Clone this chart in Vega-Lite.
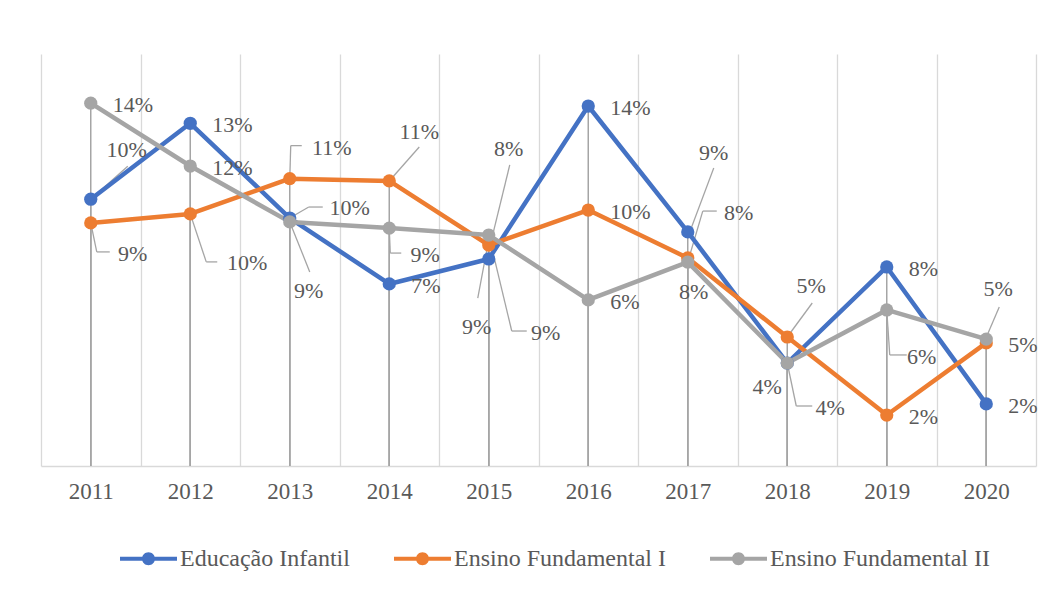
{
"$schema":"https://vega.github.io/schema/vega-lite/v6.json",
"width":995,"height":412,
"autosize":{"type":"none"},
"padding":{"left":41,"top":54,"right":20,"bottom":132},
"background":"white",
"config":{
 "view":{"stroke":null},
 "font":"Liberation Serif",
 "text":{"font":"Liberation Serif","fontSize":22,"color":"#595959","baseline":"middle","align":"center"},
 "rule":{"color":"#a5a5a5","strokeWidth":1.3}
},
"data":{"values":[
 {"year":"2011","s":"Educação Infantil","v":0.1036},
 {"year":"2012","s":"Educação Infantil","v":0.1331},
 {"year":"2013","s":"Educação Infantil","v":0.0963},
 {"year":"2014","s":"Educação Infantil","v":0.0707},
 {"year":"2015","s":"Educação Infantil","v":0.0804},
 {"year":"2016","s":"Educação Infantil","v":0.1398},
 {"year":"2017","s":"Educação Infantil","v":0.0909},
 {"year":"2018","s":"Educação Infantil","v":0.0400},
 {"year":"2019","s":"Educação Infantil","v":0.0773},
 {"year":"2020","s":"Educação Infantil","v":0.0241},
 {"year":"2011","s":"Ensino Fundamental I","v":0.0944},
 {"year":"2012","s":"Ensino Fundamental I","v":0.0979},
 {"year":"2013","s":"Ensino Fundamental I","v":0.1116},
 {"year":"2014","s":"Ensino Fundamental I","v":0.1107},
 {"year":"2015","s":"Ensino Fundamental I","v":0.0858},
 {"year":"2016","s":"Ensino Fundamental I","v":0.0994},
 {"year":"2017","s":"Ensino Fundamental I","v":0.0808},
 {"year":"2018","s":"Ensino Fundamental I","v":0.0501},
 {"year":"2019","s":"Ensino Fundamental I","v":0.0198},
 {"year":"2020","s":"Ensino Fundamental I","v":0.0478},
 {"year":"2011","s":"Ensino Fundamental II","v":0.1409},
 {"year":"2012","s":"Ensino Fundamental II","v":0.1165},
 {"year":"2013","s":"Ensino Fundamental II","v":0.0948},
 {"year":"2014","s":"Ensino Fundamental II","v":0.0924},
 {"year":"2015","s":"Ensino Fundamental II","v":0.0897},
 {"year":"2016","s":"Ensino Fundamental II","v":0.0645},
 {"year":"2017","s":"Ensino Fundamental II","v":0.0792},
 {"year":"2018","s":"Ensino Fundamental II","v":0.0400},
 {"year":"2019","s":"Ensino Fundamental II","v":0.0606},
 {"year":"2020","s":"Ensino Fundamental II","v":0.0493}
]},
"transform":[{"calculate":"(datum.s=='Educação Infantil'?'B':(datum.s=='Ensino Fundamental I'?'O':'G'))+datum.year","as":"k"}],
"encoding":{
 "x":{"field":"year","type":"ordinal","bandPosition":0.5,
  "scale":{"type":"band","paddingInner":0,"paddingOuter":0},
  "axis":{"title":null,"tickBand":"extent","ticks":false,"grid":true,"gridColor":"#d9d9d9","gridWidth":1.3,"domainColor":"#d9d9d9","domainWidth":1.3,"labelFont":"Liberation Serif","labelFontSize":23,"labelColor":"#595959","labelPadding":14,"labelAngle":0}},
 "y":{"field":"v","type":"quantitative","scale":{"domain":[0,0.16]},"axis":null}
},
"layer":[
 {"mark":{"type":"rule","strokeWidth":1.5},"encoding":{"y2":{"datum":0}}},
 {"encoding":{"x2":{"field":"year"},"y2":{"field":"v"}},
  "layer":[
   {"transform":[{"filter":"datum.k=='B2011'"}],"mark":{"type":"rule","xOffset":37,"yOffset":-33,"x2Offset":0,"y2Offset":0}},
   {"transform":[{"filter":"datum.k=='B2013'"}],"mark":{"type":"rule","xOffset":33,"yOffset":-11,"x2Offset":19,"y2Offset":-11}},
   {"transform":[{"filter":"datum.k=='B2013'"}],"mark":{"type":"rule","xOffset":19,"yOffset":-11,"x2Offset":0,"y2Offset":0}},
   {"transform":[{"filter":"datum.k=='B2015'"}],"mark":{"type":"rule","xOffset":21,"yOffset":-94,"x2Offset":1,"y2Offset":-12}},
   {"transform":[{"filter":"datum.k=='B2017'"}],"mark":{"type":"rule","xOffset":26,"yOffset":-64,"x2Offset":2,"y2Offset":0}},
   {"transform":[{"filter":"datum.k=='O2011'"}],"mark":{"type":"rule","xOffset":19,"yOffset":29,"x2Offset":6,"y2Offset":29}},
   {"transform":[{"filter":"datum.k=='O2011'"}],"mark":{"type":"rule","xOffset":6,"yOffset":29,"x2Offset":0,"y2Offset":0}},
   {"transform":[{"filter":"datum.k=='O2012'"}],"mark":{"type":"rule","xOffset":27,"yOffset":48,"x2Offset":16,"y2Offset":48}},
   {"transform":[{"filter":"datum.k=='O2012'"}],"mark":{"type":"rule","xOffset":16,"yOffset":48,"x2Offset":0,"y2Offset":0}},
   {"transform":[{"filter":"datum.k=='O2013'"}],"mark":{"type":"rule","xOffset":12,"yOffset":-33,"x2Offset":1,"y2Offset":-33}},
   {"transform":[{"filter":"datum.k=='O2013'"}],"mark":{"type":"rule","xOffset":1,"yOffset":-33,"x2Offset":0,"y2Offset":0}},
   {"transform":[{"filter":"datum.k=='O2014'"}],"mark":{"type":"rule","xOffset":30,"yOffset":-34,"x2Offset":0,"y2Offset":0}},
   {"transform":[{"filter":"datum.k=='O2015'"}],"mark":{"type":"rule","xOffset":-11,"yOffset":53,"x2Offset":-1,"y2Offset":0}},
   {"transform":[{"filter":"datum.k=='O2018'"}],"mark":{"type":"rule","xOffset":25,"yOffset":-34,"x2Offset":0,"y2Offset":0}},
   {"transform":[{"filter":"datum.k=='G2013'"}],"mark":{"type":"rule","xOffset":20,"yOffset":50,"x2Offset":0,"y2Offset":0}},
   {"transform":[{"filter":"datum.k=='G2014'"}],"mark":{"type":"rule","xOffset":12,"yOffset":25,"x2Offset":1,"y2Offset":25}},
   {"transform":[{"filter":"datum.k=='G2014'"}],"mark":{"type":"rule","xOffset":1,"yOffset":25,"x2Offset":0,"y2Offset":0}},
   {"transform":[{"filter":"datum.k=='G2015'"}],"mark":{"type":"rule","xOffset":38,"yOffset":96,"x2Offset":23,"y2Offset":96}},
   {"transform":[{"filter":"datum.k=='G2015'"}],"mark":{"type":"rule","xOffset":23,"yOffset":96,"x2Offset":0,"y2Offset":0}},
   {"transform":[{"filter":"datum.k=='G2017'"}],"mark":{"type":"rule","xOffset":29,"yOffset":-51,"x2Offset":15,"y2Offset":-51}},
   {"transform":[{"filter":"datum.k=='G2017'"}],"mark":{"type":"rule","xOffset":15,"yOffset":-51,"x2Offset":0,"y2Offset":0}},
   {"transform":[{"filter":"datum.k=='G2018'"}],"mark":{"type":"rule","xOffset":25,"yOffset":43,"x2Offset":9,"y2Offset":43}},
   {"transform":[{"filter":"datum.k=='G2018'"}],"mark":{"type":"rule","xOffset":9,"yOffset":43,"x2Offset":0,"y2Offset":0}},
   {"transform":[{"filter":"datum.k=='G2019'"}],"mark":{"type":"rule","xOffset":20,"yOffset":45,"x2Offset":3,"y2Offset":45}},
   {"transform":[{"filter":"datum.k=='G2019'"}],"mark":{"type":"rule","xOffset":3,"yOffset":45,"x2Offset":0,"y2Offset":0}},
   {"transform":[{"filter":"datum.k=='G2020'"}],"mark":{"type":"rule","xOffset":13,"yOffset":-32,"x2Offset":1,"y2Offset":-4}}
  ]},
 {"mark":{"type":"line","strokeWidth":4.5,"strokeJoin":"round","strokeCap":"round"},
  "encoding":{"color":{"field":"s","type":"nominal",
   "scale":{"domain":["Educação Infantil","Ensino Fundamental I","Ensino Fundamental II"],"range":["#4472C4","#ED7D31","#A5A5A5"]},
   "legend":{"title":null,"orient":"none","legendX":79,"legendY":476,"direction":"horizontal",
    "symbolType":"M-1,-0.07L1,-0.07L1,0.07L-1,0.07Z M0.228,0A0.228,0.228,0,1,1,-0.228,0A0.228,0.228,0,1,1,0.228,0Z",
    "symbolSize":3249,"symbolStrokeWidth":0,"labelFont":"Liberation Serif","labelFontSize":24,"labelColor":"#595959",
    "labelOffset":3,"columnPadding":44,"labelLimit":400,
    "encode":{"symbols":{"update":{"fill":{"scale":"color","field":"value"},"opacity":{"value":1}}}}}}}},
 {"mark":{"type":"point","filled":true,"opacity":1,"size":175},"encoding":{"color":{"field":"s","type":"nominal"}}},
 {"encoding":{"text":{"field":"v","type":"quantitative","format":".0%"}},
  "layer":[
   {"transform":[{"filter":"indexof(['G2011','B2012','G2012','B2014','B2016','O2016','G2016','B2019','O2019','O2020','B2020'], datum.k) >= 0"}],"mark":{"type":"text","align":"left","dx":22,"dy":2}},
   {"transform":[{"filter":"datum.k=='B2011'"}],"mark":{"type":"text","dx":36,"dy":-49}},
   {"transform":[{"filter":"datum.k=='B2013'"}],"mark":{"type":"text","dx":60,"dy":-10}},
   {"transform":[{"filter":"datum.k=='B2015'"}],"mark":{"type":"text","dx":20,"dy":-110}},
   {"transform":[{"filter":"datum.k=='B2017'"}],"mark":{"type":"text","dx":26,"dy":-79}},
   {"transform":[{"filter":"datum.k=='B2018'"}],"mark":{"type":"text","dx":-20,"dy":24}},
   {"transform":[{"filter":"datum.k=='O2011'"}],"mark":{"type":"text","dx":42,"dy":31}},
   {"transform":[{"filter":"datum.k=='O2012'"}],"mark":{"type":"text","dx":57,"dy":49}},
   {"transform":[{"filter":"datum.k=='O2013'"}],"mark":{"type":"text","dx":42,"dy":-31}},
   {"transform":[{"filter":"datum.k=='O2014'"}],"mark":{"type":"text","dx":30,"dy":-49}},
   {"transform":[{"filter":"datum.k=='O2015'"}],"mark":{"type":"text","dx":-12,"dy":82}},
   {"transform":[{"filter":"datum.k=='O2017'"}],"mark":{"type":"text","dx":6,"dy":34}},
   {"transform":[{"filter":"datum.k=='O2018'"}],"mark":{"type":"text","dx":24,"dy":-51}},
   {"transform":[{"filter":"datum.k=='G2013'"}],"mark":{"type":"text","dx":19,"dy":69}},
   {"transform":[{"filter":"datum.k=='G2014'"}],"mark":{"type":"text","dx":36,"dy":27}},
   {"transform":[{"filter":"datum.k=='G2015'"}],"mark":{"type":"text","dx":57,"dy":98}},
   {"transform":[{"filter":"datum.k=='G2017'"}],"mark":{"type":"text","dx":51,"dy":-49}},
   {"transform":[{"filter":"datum.k=='G2018'"}],"mark":{"type":"text","dx":43,"dy":45}},
   {"transform":[{"filter":"datum.k=='G2019'"}],"mark":{"type":"text","dx":35,"dy":47}},
   {"transform":[{"filter":"datum.k=='G2020'"}],"mark":{"type":"text","dx":12,"dy":-50}}
  ]}
]
}
